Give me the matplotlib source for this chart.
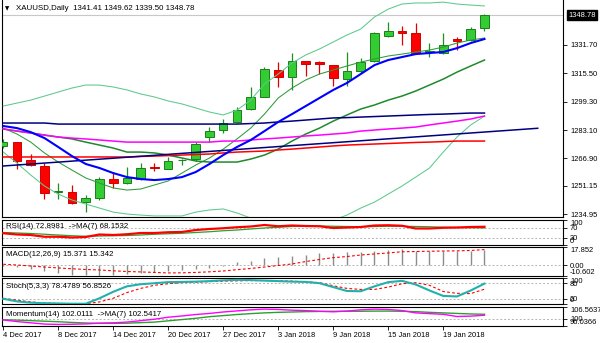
import matplotlib.pyplot as plt
from matplotlib.patches import Rectangle
from matplotlib.transforms import blended_transform_factory

plt.rcParams['font.family'] = ['Liberation Sans', 'DejaVu Sans']

# XAUUSD daily bars
dates = ['4 Dec 2017', '5 Dec 2017', '6 Dec 2017', '7 Dec 2017', '8 Dec 2017',
         '11 Dec 2017', '12 Dec 2017', '13 Dec 2017', '14 Dec 2017', '15 Dec 2017',
         '18 Dec 2017', '19 Dec 2017', '20 Dec 2017', '21 Dec 2017', '22 Dec 2017',
         '26 Dec 2017', '27 Dec 2017', '28 Dec 2017', '29 Dec 2017', '2 Jan 2018',
         '3 Jan 2018', '4 Jan 2018', '5 Jan 2018', '8 Jan 2018', '9 Jan 2018',
         '10 Jan 2018', '11 Jan 2018', '12 Jan 2018', '15 Jan 2018', '16 Jan 2018',
         '17 Jan 2018', '18 Jan 2018', '19 Jan 2018', '22 Jan 2018', '23 Jan 2018',
         '24 Jan 2018']
opens = [1274.0, 1276.1, 1265.8, 1262.7, 1247.7, 1247.7, 1241.8, 1244.0, 1255.1, 1252.8,
         1254.9, 1262.0, 1260.9, 1265.8, 1266.5, 1278.9, 1283.1, 1287.5, 1295.1, 1302.1,
         1317.4, 1313.2, 1322.5, 1321.8, 1320.2, 1312.2, 1317.0, 1322.5, 1336.8, 1339.8,
         1338.7, 1327.7, 1326.9, 1335.1, 1334.5, 1341.41]
highs = [1277.9, 1276.5, 1269.2, 1264.4, 1252.6, 1251.7, 1246.0, 1256.5, 1259.3, 1261.9,
         1264.2, 1264.4, 1267.8, 1266.6, 1276.1, 1285.0, 1289.2, 1296.1, 1307.5, 1319.3,
         1321.8, 1326.9, 1322.8, 1322.5, 1320.5, 1327.8, 1324.1, 1339.1, 1345.0, 1342.5,
         1344.1, 1333.0, 1338.4, 1336.1, 1342.1, 1349.62]
lows = [1272.8, 1260.8, 1262.5, 1243.7, 1243.7, 1240.8, 1236.4, 1243.1, 1249.8, 1252.2,
        1254.5, 1259.7, 1260.8, 1263.3, 1265.4, 1276.4, 1281.2, 1287.1, 1294.5, 1301.7,
        1307.5, 1306.0, 1314.0, 1315.1, 1308.2, 1308.2, 1315.8, 1322.0, 1336.2, 1331.7,
        1326.5, 1324.7, 1326.5, 1328.8, 1333.9, 1339.50]
closes = [1276.2, 1265.6, 1263.1, 1246.9, 1248.0, 1241.6, 1244.1, 1255.1, 1252.6, 1255.5,
          1261.6, 1261.6, 1265.4, 1266.1, 1275.1, 1282.7, 1286.9, 1294.5, 1302.1, 1317.8,
          1313.2, 1322.5, 1320.6, 1320.8, 1312.7, 1316.8, 1321.8, 1338.5, 1339.8, 1338.7,
          1326.9, 1328.1, 1331.7, 1334.1, 1340.8, 1348.78]

# overlays on the price window
bb_upper = [1296.8, 1298.5, 1300.2, 1302.5, 1304.8, 1307.1, 1308.8, 1308.8, 1307.7, 1306.0,
            1303.7, 1302.0, 1299.7, 1298.0, 1295.7, 1293.4, 1291.7, 1294.5, 1300.2, 1309.4,
            1315.1, 1321.4, 1326.0, 1329.4, 1333.4, 1337.4, 1340.8, 1347.7, 1352.2, 1355.1,
            1355.7, 1355.7, 1356.2, 1355.1, 1354.5, 1354.0]
bb_middle = [1283.7, 1282.5, 1281.4, 1280.2, 1279.1, 1278.0, 1276.2, 1274.5, 1272.8, 1270.5,
             1270.5, 1270.0, 1268.8, 1267.1, 1265.4, 1264.8, 1264.8, 1264.8, 1266.5, 1268.8,
             1272.2, 1276.8, 1280.8, 1284.2, 1288.2, 1291.7, 1295.1, 1297.4, 1300.2, 1302.5,
             1305.4, 1308.8, 1312.2, 1316.2, 1319.7, 1323.1]
bb_lower = [1270.5, 1264.2, 1257.4, 1251.1, 1246.5, 1243.1, 1240.8, 1238.5, 1236.2, 1235.1,
            1234.5, 1234.0, 1234.0, 1234.0, 1236.2, 1237.4, 1238.0, 1235.7, 1232.8, 1228.2,
            1228.2, 1230.5, 1231.7, 1231.7, 1231.7, 1234.5, 1238.5, 1241.9, 1246.5, 1251.1,
            1256.2, 1261.4, 1270.5, 1279.1, 1286.0, 1291.1]
ma_fast = [1285.4, 1284.2, 1281.9, 1278.5, 1273.4, 1268.2, 1263.7, 1261.4, 1258.5, 1256.2,
           1255.1, 1254.5, 1255.1, 1256.2, 1259.1, 1263.7, 1268.8, 1273.4, 1277.4, 1282.5,
           1287.7, 1292.2, 1296.8, 1301.4, 1306.0, 1310.0, 1315.1, 1320.2, 1323.1, 1324.8,
           1326.5, 1327.1, 1327.7, 1329.9, 1332.8, 1335.1]
ma_thin = [1284.2, 1280.8, 1276.2, 1270.0, 1264.8, 1260.2, 1255.7, 1252.8, 1250.0, 1248.8,
           1249.4, 1251.7, 1254.0, 1258.5, 1263.1, 1267.1, 1272.2, 1278.0, 1284.2, 1292.2,
           1301.4, 1307.1, 1311.7, 1315.1, 1317.4, 1319.7, 1321.9, 1323.7, 1325.4, 1326.5,
           1327.7, 1328.8, 1330.5, 1332.8, 1334.5, 1335.7]
ma_magenta = [1283.7, 1282.5, 1281.4, 1280.2, 1279.1, 1278.5, 1278.0, 1277.4, 1276.8, 1276.2,
              1276.2, 1276.2, 1276.2, 1276.2, 1276.2, 1276.2, 1276.8, 1276.8, 1277.4, 1278.0,
              1278.5, 1279.1, 1279.7, 1280.2, 1280.8, 1281.4, 1282.5, 1283.1, 1283.7, 1284.2,
              1284.8, 1286.0, 1287.1, 1288.2, 1289.4, 1291.1]
ma_navy = [1287.1, 1287.1, 1287.1, 1287.1, 1286.5, 1286.5, 1286.5, 1286.5, 1286.5, 1286.5,
           1286.5, 1286.5, 1286.5, 1286.5, 1286.5, 1286.5, 1286.5, 1286.5, 1286.8, 1287.1,
           1287.7, 1288.2, 1288.8, 1289.4, 1290.0, 1290.2, 1290.5, 1290.8, 1291.1, 1291.4,
           1291.7, 1292.0, 1292.2, 1292.5, 1292.8, 1292.8]
ma_red = [1267.7, 1267.7, 1267.7, 1267.7, 1267.7, 1267.7, 1267.7, 1267.7, 1267.7, 1267.7,
          1268.0, 1268.2, 1268.5, 1268.8, 1269.1, 1269.4, 1270.0, 1270.5, 1270.8, 1271.1,
          1271.7, 1272.2, 1272.8, 1273.4, 1274.0, 1274.5, 1274.8, 1275.1, 1275.4, 1275.7,
          1276.0, 1276.2, 1276.5, 1276.8, 1276.8, 1276.8]
trend_idx = [-0.1, 38.87]
trend_price = [1262.5, 1284.1]

# sub-window indicators
rsi = [47, 42, 40, 33, 33, 30, 32, 42, 40, 43, 48, 48, 51, 52, 60, 64, 67, 71, 74, 80,
       75, 78, 76, 75, 68, 70, 72, 78, 79, 77, 66, 66, 69, 70, 72, 72.8981]
rsi_ma = [50, 48, 46, 43, 40, 37, 35, 36, 37, 38, 40, 43, 45, 47, 50, 53, 57, 60, 64, 68,
          71, 74, 76, 76, 75, 74, 73, 74, 75, 75, 74, 73, 71, 70, 69, 68.1532]
macd_main = [-0.5, -1.8, -3.5, -5.5, -7.5, -9.4, -10.1, -10.6, -9.4, -8.3, -7.5, -6.4, -5.5,
             -4.8, -3.5, -2.5, -0.6, 2.8, 4.3, 6.8, 7.7, 9.3, 10.2, 11.8, 11.9, 12.8, 13.3,
             14.2, 15.0, 15.8, 14.3, 14.0, 13.9, 14.0, 14.1, 15.371]
macd_signal = [0.9, 0.2, -0.8, -1.8, -2.7, -3.5, -4.2, -4.7, -5.5, -6.2, -6.6, -7.1, -7.6,
               -7.5, -7.1, -6.5, -5.7, -4.4, -3.2, -1.8, -0.3, 1.2, 3.6, 5.6, 7.4, 8.5, 10.0,
               11.0, 12.0, 13.2, 13.4, 13.7, 13.9, 14.1, 14.4, 15.342]
stoch_k = [20, 10, 5, 3, 2, 1, 1, 22, 47, 68, 76, 80, 84, 85, 86, 88, 91, 93, 92, 90,
           88, 86, 85, 80, 65, 50, 49, 68, 84, 89, 75, 52, 31, 29, 52, 78.4789]
stoch_d = [22, 15, 8, 4, 2, 1, 1, 8, 22, 44, 60, 72, 78, 82, 84, 86, 88, 89, 90, 90,
           89, 88, 85, 82, 70, 60, 56, 56, 65, 78, 82, 72, 48, 41, 40, 56.8526]
momentum = [99.4, 98.5, 97.8, 97.1, 96.9, 97.0, 97.2, 97.6, 97.8, 98.2, 99.0, 99.8, 100.9,
            101.6, 102.4, 103.0, 103.8, 104.4, 105.0, 105.4, 105.2, 104.8, 104.6, 104.2,
            103.9, 104.3, 105.0, 105.4, 105.2, 104.6, 103.3, 102.9, 102.5, 101.3, 101.5,
            102.0111]
momentum_ma = [99.5, 99.3, 99.0, 98.7, 98.4, 98.0, 97.7, 97.5, 97.5, 97.6, 97.9, 98.2, 98.9,
               99.6, 100.3, 101.2, 101.8, 102.4, 102.9, 103.3, 103.6, 103.8, 104.0, 104.1,
               104.2, 104.2, 104.2, 104.3, 104.3, 104.2, 104.0, 103.6, 103.3, 103.0, 102.7,
               102.5417]

price_ticks = [1234.95, 1251.15, 1266.90, 1283.10, 1299.30, 1315.50, 1331.70]
macd_range = (-10.602, 17.852)
momentum_range = (96.0366, 106.5637)

W, H = 600, 343
LEFT, RIGHT = 2, 563
FS = 5.4
FS_LABEL = 5.7
idx = list(range(len(dates)))

fig = plt.figure(figsize=(W / 100, H / 100), dpi=100)


def add_panel(top, bottom):
    ax = fig.add_axes([LEFT / W, 1 - bottom / H, (RIGHT - LEFT) / W, (bottom - top) / H])
    ax.set_xlim(-0.09, 40.71)
    for s in ax.spines.values():
        s.set_linewidth(0.8)
        s.set_color('black')
    ax.tick_params(axis='x', bottom=False, labelbottom=False)
    ax.yaxis.tick_right()
    ax.tick_params(axis='y', length=3, width=0.6, pad=2, labelsize=FS)
    return ax


def set_right_labels(ax, values, labels):
    ax.set_yticks(values)
    ax.set_yticklabels(labels)
    tl = ax.get_yticklabels()
    tl[0].set_va('bottom')
    tl[-1].set_va('top')


def level(ax, y):
    ax.axhline(y, color='#b4b4b4', lw=0.7, ls=(0, (2, 2)), zorder=1)


def window_label(y, text):
    fig.text(6 / W, 1 - y / H, text, fontsize=FS_LABEL, va='center', ha='left')


# ---- price window ----
ax = add_panel(0, 217)
ax.spines['top'].set_visible(False)
ax.set_ylim(1233.4, 1357.4)
ax.set_yticks(price_ticks)
ax.set_yticklabels([f'{v:.2f}' for v in price_ticks])

ax.axhline(closes[-1], color='#c8c8c8', lw=0.8, zorder=1)

for i in idx:
    o, h, l, c = opens[i], highs[i], lows[i], closes[i]
    up = c >= o
    ax.vlines(i, l, h, color='#1f8f1f' if up else '#e00000', lw=0.9, zorder=3)
    ax.add_patch(Rectangle((i - 0.31, min(o, c)), 0.62, max(abs(c - o), 0.12),
                           facecolor='#33cc33' if up else '#ff0000',
                           edgecolor='#1a7f1a' if up else '#d00000', lw=0.7, zorder=4))

ax.plot(idx, bb_upper, color='#5cc98c', lw=0.75, zorder=5)
ax.plot(idx, bb_lower, color='#5cc98c', lw=0.75, zorder=5)
ax.plot(idx, ma_thin, color='#2e9a3a', lw=0.75, zorder=5)
ax.plot(idx, bb_middle, color='#1e8a2a', lw=1.1, zorder=5)
ax.plot(idx, ma_magenta, color='#ff00ff', lw=1.1, zorder=5)
ax.plot(idx, ma_navy, color='#00007f', lw=1.1, zorder=5)
ax.plot(idx, ma_red, color='#ff0000', lw=1.1, zorder=5)
ax.plot(trend_idx, trend_price, color='#00007f', lw=1.1, zorder=5)
ax.plot(idx, ma_fast, color='#0000ff', lw=1.5, zorder=6)

tr = blended_transform_factory(ax.transAxes, ax.transData)
ax.text(1 + 5 / (RIGHT - LEFT), closes[-1], f'{closes[-1]:.2f}', transform=tr,
        fontsize=FS, color='white', ha='left', va='center',
        bbox=dict(boxstyle='square,pad=0.15', facecolor='black', edgecolor='black'))

fig.text(5 / W, 1 - 9 / H, '\u25bc', fontsize=4, va='center', ha='left',
         family='DejaVu Sans')
fig.text(16 / W, 1 - 9 / H,
         f'XAUUSD,Daily  {opens[-1]:.2f} {highs[-1]:.2f} {lows[-1]:.2f} {closes[-1]:.2f}',
         fontsize=FS_LABEL, va='center', ha='left')

# ---- RSI ----
ax_rsi = add_panel(220, 245)
ax_rsi.set_ylim(0, 100)
set_right_labels(ax_rsi, [0, 30, 70, 100], ['0', '30', '70', '100'])
level(ax_rsi, 30)
level(ax_rsi, 70)
ax_rsi.plot(idx, rsi_ma, color='#2ca02c', lw=0.9, zorder=3)
ax_rsi.plot(idx, rsi, color='#ff0000', lw=1.6, zorder=4)
window_label(226.7, f'RSI(14) {rsi[-1]:.4f}  ->MA(7) {rsi_ma[-1]:.4f}')

# ---- MACD ----
ax_macd = add_panel(247, 276)
ax_macd.set_ylim(*macd_range)
set_right_labels(ax_macd, [macd_range[0], 0, macd_range[1]],
                 [f'{macd_range[0]:.3f}', '0.00', f'{macd_range[1]:.3f}'])
level(ax_macd, 0)
ax_macd.vlines(idx, 0, macd_main, color='#8c8c8c', lw=1.0, zorder=3)
ax_macd.plot(idx, macd_signal, color='#ff0000', lw=0.8, ls=(0, (2.5, 2)), zorder=4)
window_label(255, f'MACD(12,26,9) {macd_main[-1]:.3f} {macd_signal[-1]:.3f}')

# ---- Stochastic ----
ax_st = add_panel(278, 304)
ax_st.set_ylim(0, 100)
set_right_labels(ax_st, [0, 20, 80, 100], ['0', '20', '80', '100'])
level(ax_st, 20)
level(ax_st, 80)
ax_st.plot(idx, stoch_d, color='#ff0000', lw=0.8, ls=(0, (2.5, 2)), zorder=3)
ax_st.plot(idx, stoch_k, color='#20b2aa', lw=1.5, zorder=4)
window_label(286, f'Stoch(5,3,3) {stoch_k[-1]:.4f} {stoch_d[-1]:.4f}')

# ---- Momentum ----
ax_mom = add_panel(307, 326)
ax_mom.set_ylim(*momentum_range)
set_right_labels(ax_mom, [momentum_range[0], 100, momentum_range[1]],
                 [f'{momentum_range[0]:.4f}', '100', f'{momentum_range[1]:.4f}'])
level(ax_mom, 100)
ax_mom.plot(idx, momentum_ma, color='#2ca02c', lw=1.0, zorder=3)
ax_mom.plot(idx, momentum, color='#ff00ff', lw=1.0, zorder=4)
window_label(315, f'Momentum(14) {momentum[-1]:.4f}  ->MA(7) {momentum_ma[-1]:.4f}')

ax_mom.set_xticks(idx[::4])
ax_mom.set_xticklabels(dates[::4], ha='left')
ax_mom.tick_params(axis='x', bottom=True, labelbottom=True, length=3, width=0.6,
                   pad=1, labelsize=FS)

fig.savefig('out.png', dpi=100, facecolor='white')
